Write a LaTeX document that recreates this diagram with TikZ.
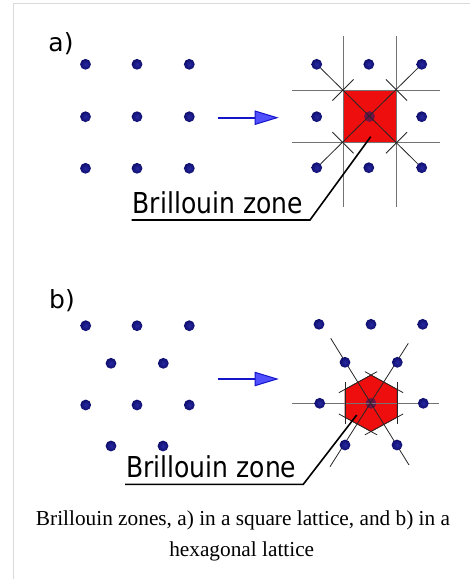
\documentclass[tikz,border=0pt]{standalone}
\usepackage{fontspec}
\setmainfont{Liberation Serif}
\newfontfamily\dvs{DejaVu Sans}
\newfontfamily\dvsn[FakeStretch=0.87]{DejaVu Sans}
\definecolor{navy}{RGB}{14,14,110}
\definecolor{navyin}{RGB}{40,40,160}
\definecolor{zonered}{RGB}{238,14,14}
\definecolor{zoneedge}{RGB}{150,10,10}
\definecolor{centerdot}{RGB}{110,20,70}
\definecolor{arrowblue}{RGB}{20,20,200}
\definecolor{arrowfill}{RGB}{80,80,255}
\definecolor{framegray}{RGB}{218,218,218}
\tikzset{
  dot/.style={circle,minimum size=10.8pt,inner sep=0pt,inner color=navyin,outer color=navy},
  cdot/.style={circle,minimum size=10.8pt,inner sep=0pt,fill=centerdot},
  longline/.style={line width=0.9pt,draw=black!55},
  thinline/.style={line width=0.8pt,draw=black!85},
  leader/.style={line width=1.6pt,draw=black},
  zone/.style={fill=zonered,draw=zoneedge,line width=0.6pt},
  lbl/.style={font=\dvs\fontsize{25}{30}\selectfont,inner sep=0pt},
  zonelbl/.style={font=\dvsn\fontsize{28.8}{34}\selectfont,inner sep=0pt},
  captext/.style={font=\fontsize{21.3}{25}\selectfont,inner sep=0pt},
  arrline/.style={line width=2.2pt,draw=arrowblue},
  arrhead/.style={fill=arrowfill,draw=arrowblue,line width=1pt,line join=miter}
}
\begin{document}
\begin{tikzpicture}[x=1pt,y=-1pt]
\useasboundingbox (0,0) rectangle (470,579);
% frame
\draw[framegray,line width=1.6pt] (13.3,579) -- (13.3,3.3) -- (470,3.3);
% ===== a) =====
\node[lbl,anchor=center] (la) at (61,44) {a)};
\foreach \r/\y in {1/64.3,2/116.7,3/168.3}{
  \foreach \c/\x in {1/85.5,2/137,3/189.3}{
    \node[dot] (a\r\c) at (\x,\y) {};
  }
}
% arrow a
\coordinate (aarS) at (217.7,117.7);
\coordinate (aarE) at (256,117.7);
\draw[arrline] (aarS) -- (aarE);
\draw[arrhead] (255,111) -- (277,117.7) -- (255,124.4) -- cycle;
% square zone
\draw[zone] (343,90) rectangle (396.5,142.7);
\node[cdot] (sc) at (369.5,116.5) {};
\draw[longline] (291.7,90) -- (440,90);
\draw[longline] (291.7,142.7) -- (440,142.7);
\draw[longline] (343,36) -- (343,207);
\draw[longline] (396.5,36) -- (396.5,207);
% outer dots of right square lattice
\foreach \r/\y in {1/64.3,2/116.7,3/167.7}{
  \foreach \c/\x in {1/316.7,2/368.8,3/421.7}{
    \ifnum\r\c=22\else\node[dot] (b\r\c) at (\x,\y) {};\fi
  }
}
\draw[thinline] (b11) -- (b33);
\draw[thinline] (b13) -- (b31);
\draw[thinline] (332.4,100.6) -- (353.6,79.4);
\draw[thinline] (385.9,79.4) -- (407.1,100.6);
\draw[thinline] (332.4,132.1) -- (353.6,153.3);
\draw[thinline] (385.9,153.3) -- (407.1,132.1);
% label a
\node[zonelbl,anchor=base west] (ta) at (132.5,213.3) {Brillouin zone};
\coordinate (ua) at (131.7,220);
\coordinate (ka) at (310,220);
\coordinate (pa) at (370.7,136.7);
\draw[leader,line join=miter] (ua) -- (ka) -- (pa);
% ===== b) =====
\node[lbl,anchor=center] (lb) at (62,301) {b)};
\foreach \n/\x/\y in {1/85.7/325.7,2/137/325.7,3/189.3/325.7,4/111/363.3,5/163.3/363.3,6/85.7/405,7/137/405,8/189.3/405,9/111/446,10/163/446}{
  \node[dot] (c\n) at (\x,\y) {};
}
% arrow b
\coordinate (barS) at (217.7,379);
\coordinate (barE) at (256,379);
\draw[arrline] (barS) -- (barE);
\draw[arrhead] (255,372.3) -- (277,379) -- (255,385.7) -- cycle;
% hexagon zone
\coordinate (hT) at (371,375);
\coordinate (hUR) at (397,389.3);
\coordinate (hLR) at (397,417.3);
\coordinate (hB) at (371,431.5);
\coordinate (hLL) at (345,417.3);
\coordinate (hUL) at (345,389.3);
\draw[zone] (hT) -- (hUR) -- (hLR) -- (hB) -- (hLL) -- (hUL) -- cycle;
\node[cdot] (hc) at (371,403.3) {};
\draw[longline] (291.7,403.3) -- (439,403.3);
\draw[thinline] (330.7,338.3) -- (409,465);
\draw[thinline] (408.3,343.3) -- (330,466.7);
\foreach \p/\q in {hT/hUR,hUR/hLR,hLR/hB,hB/hLL,hLL/hUL,hUL/hT}{
  \draw[thinline,shorten <=-7pt,shorten >=-7pt] (\p) -- (\q);
}
\foreach \n/\x/\y in {1/319/324.3,2/371/324.3,3/422.7/324.3,4/345/362.3,5/397.3/362.3,6/319.7/403.3,7/423.3/403.3,8/345/445,9/397/445}{
  \node[dot] (d\n) at (\x,\y) {};
}
% label b
\node[zonelbl,anchor=base west] (tb) at (126,477.6) {Brillouin zone};
\coordinate (ub) at (125,484.3);
\coordinate (kb) at (303.3,484.3);
\coordinate (pb) at (356.7,415);
\draw[leader,line join=miter] (ub) -- (kb) -- (pb);
% caption
\node[captext,anchor=base] (cap1) at (243,525) {Brillouin zones, a) in a square lattice, and b) in a};
\node[captext,anchor=base] (cap2) at (241.7,556) {hexagonal lattice};
\end{tikzpicture}
\end{document}
